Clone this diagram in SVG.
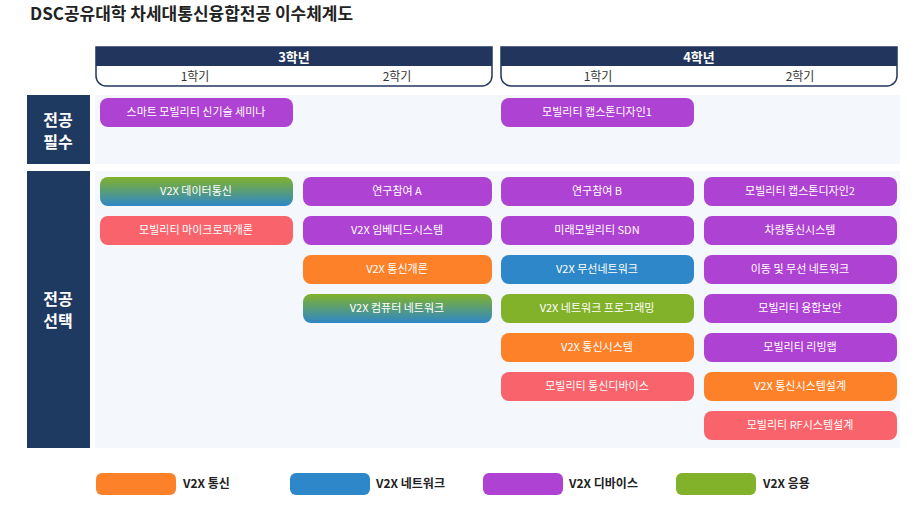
<svg xmlns="http://www.w3.org/2000/svg" width="920" height="518" viewBox="0 0 920 518">
<style>
text{font-family:"Noto Sans CJK KR","Noto Sans",sans-serif}
.t{font-size:11px;fill:#fff;text-anchor:middle}
.p{fill:#AE42D2}.o{fill:#FD8128}.b{fill:#2E87C8}.g{fill:#82B22A}.r{fill:#F9636B}
.hd{font-size:13px;font-weight:bold;fill:#fff;text-anchor:middle}
.sm{font-size:12px;fill:#333;text-anchor:middle}
.side{font-size:16px;font-weight:bold;fill:#fff;text-anchor:middle}
.lg{font-size:12px;font-weight:bold;fill:#222}
</style>
<defs>
<linearGradient id="gb" x1="0" y1="0" x2="0" y2="1"><stop offset="0" stop-color="#82B22A"/><stop offset="1" stop-color="#2E87C8"/></linearGradient>
</defs>
<rect width="920" height="518" fill="#fff"/>
<text x="30" y="20" font-size="17" font-weight="bold" fill="#222">DSC공유대학 차세대통신융합전공 이수체계도</text>
<g id="headers">
<path d="M96,47 H492 V76 a10,10 0 0 1 -10,10 H106 a10,10 0 0 1 -10,-10 Z" fill="#fff" stroke="#22365D" stroke-width="1.5"/>
<rect x="96" y="47" width="396" height="19" fill="#22365D"/>
<text class="hd" x="294" y="62">3학년</text>
<text class="sm" x="195" y="81">1학기</text><text class="sm" x="397" y="81">2학기</text>
<path d="M501,47 H897 V76 a10,10 0 0 1 -10,10 H511 a10,10 0 0 1 -10,-10 Z" fill="#fff" stroke="#22365D" stroke-width="1.5"/>
<rect x="501" y="47" width="396" height="19" fill="#22365D"/>
<text class="hd" x="699" y="62">4학년</text>
<text class="sm" x="598" y="81">1학기</text><text class="sm" x="800" y="81">2학기</text>
</g>
<g id="sections">
<rect x="95" y="95" width="805" height="69" fill="#F4F7FC"/>
<rect x="95" y="171" width="805" height="277" fill="#F4F7FC"/>
<rect x="27" y="95" width="63" height="69" fill="#1F3A60"/>
<rect x="27" y="171" width="63" height="277" fill="#1F3A60"/>
<text class="side" x="58" y="126">전공</text><text class="side" x="58" y="148">필수</text>
<text class="side" x="58" y="305">전공</text><text class="side" x="58" y="327">선택</text>
</g>
<g id="nodes">
<g id="n1"><rect class="p" x="100" y="98" width="193" height="29" rx="8"/><text class="t" x="196" y="116">스마트 모빌리티 신기술 세미나</text></g>
<g id="n2"><rect class="p" x="501" y="98" width="193" height="29" rx="8"/><text class="t" x="597" y="116">모빌리티 캡스톤디자인1</text></g>
<g id="c1a"><rect fill="url(#gb)" x="100" y="177" width="193" height="29" rx="8"/><text class="t" x="196" y="195">V2X 데이터통신</text></g>
<g id="c1b"><rect class="r" x="100" y="216" width="193" height="29" rx="8"/><text class="t" x="196" y="234">모빌리티 마이크로파개론</text></g>
<g id="c2a"><rect class="p" x="303" y="177" width="189" height="29" rx="8"/><text class="t" x="397" y="195">연구참여 A</text></g>
<g id="c2b"><rect class="p" x="303" y="216" width="189" height="29" rx="8"/><text class="t" x="397" y="234">V2X 임베디드시스템</text></g>
<g id="c2c"><rect class="o" x="303" y="255" width="189" height="29" rx="8"/><text class="t" x="397" y="273">V2X 통신개론</text></g>
<g id="c2d"><rect fill="url(#gb)" x="303" y="294" width="189" height="29" rx="8"/><text class="t" x="397" y="312">V2X 컴퓨터 네트워크</text></g>
<g id="c3a"><rect class="p" x="501" y="177" width="193" height="29" rx="8"/><text class="t" x="597" y="195">연구참여 B</text></g>
<g id="c3b"><rect class="p" x="501" y="216" width="193" height="29" rx="8"/><text class="t" x="597" y="234">미래모빌리티 SDN</text></g>
<g id="c3c"><rect class="b" x="501" y="255" width="193" height="29" rx="8"/><text class="t" x="597" y="273">V2X 무선네트워크</text></g>
<g id="c3d"><rect class="g" x="501" y="294" width="193" height="29" rx="8"/><text class="t" x="597" y="312">V2X 네트워크 프로그래밍</text></g>
<g id="c3e"><rect class="o" x="501" y="333" width="193" height="29" rx="8"/><text class="t" x="597" y="351">V2X 통신시스템</text></g>
<g id="c3f"><rect class="r" x="501" y="372" width="193" height="29" rx="8"/><text class="t" x="597" y="390">모빌리티 통신디바이스</text></g>
<g id="c4a"><rect class="p" x="704" y="177" width="193" height="29" rx="8"/><text class="t" x="800" y="195">모빌리티 캡스톤디자인2</text></g>
<g id="c4b"><rect class="p" x="704" y="216" width="193" height="29" rx="8"/><text class="t" x="800" y="234">차량통신시스템</text></g>
<g id="c4c"><rect class="p" x="704" y="255" width="193" height="29" rx="8"/><text class="t" x="800" y="273">이동 및 무선 네트워크</text></g>
<g id="c4d"><rect class="p" x="704" y="294" width="193" height="29" rx="8"/><text class="t" x="800" y="312">모빌리티 융합보안</text></g>
<g id="c4e"><rect class="p" x="704" y="333" width="193" height="29" rx="8"/><text class="t" x="800" y="351">모빌리티 리빙랩</text></g>
<g id="c4f"><rect class="o" x="704" y="372" width="193" height="29" rx="8"/><text class="t" x="800" y="390">V2X 통신시스템설계</text></g>
<g id="c4g"><rect class="r" x="704" y="411" width="193" height="29" rx="8"/><text class="t" x="800" y="429">모빌리티 RF시스템설계</text></g>
</g>
<g id="legend">
<rect class="o" x="96" y="473" width="80" height="22" rx="6"/><text class="lg" x="183" y="488">V2X 통신</text>
<rect class="b" x="290" y="473" width="80" height="22" rx="6"/><text class="lg" x="376" y="488">V2X 네트워크</text>
<rect class="p" x="483" y="473" width="80" height="22" rx="6"/><text class="lg" x="569" y="488">V2X 디바이스</text>
<rect class="g" x="676" y="473" width="80" height="22" rx="6"/><text class="lg" x="763" y="488">V2X 응용</text>
</g>
<g id="connectors"></g>
</svg>
